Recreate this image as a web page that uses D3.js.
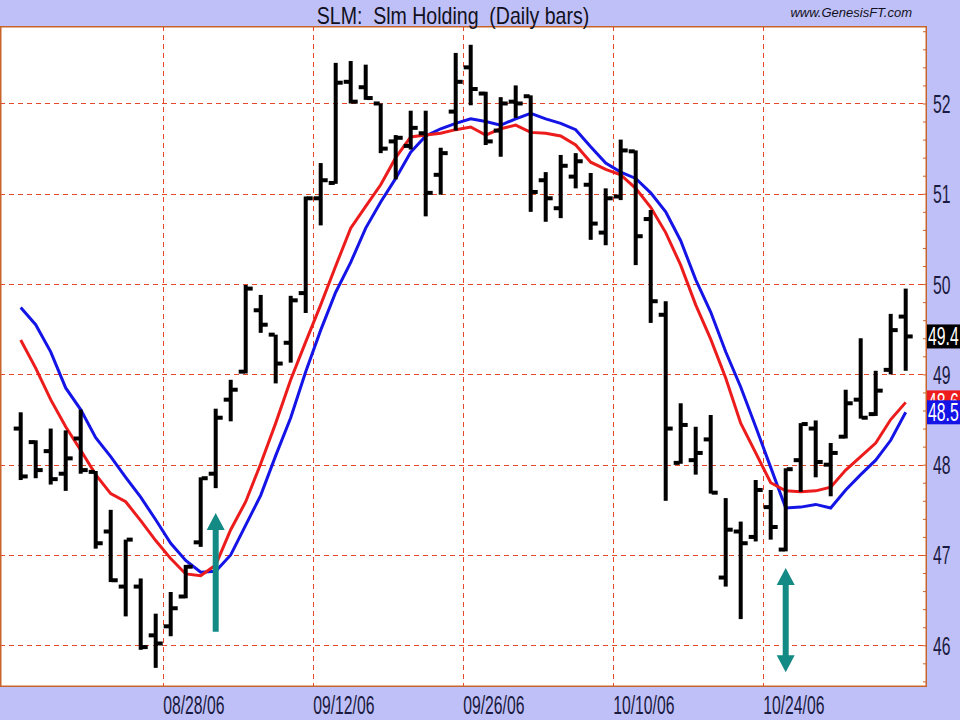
<!DOCTYPE html>
<html>
<head>
<meta charset="utf-8">
<script src="https://cdn.jsdelivr.net/npm/d3@7/dist/d3.min.js"></script>
<style>
  html, body { margin: 0; padding: 0; background: #c0c0f8; }
  svg { display: block; }
  text { white-space: pre; }
</style>
</head>
<body>
<svg id="chart" width="960" height="720"></svg>
<script>
// ---------------- DATA ----------------
const dates = [
  "08/14/06","08/15/06","08/16/06","08/17/06","08/18/06","08/21/06","08/22/06","08/23/06","08/24/06","08/25/06",
  "08/28/06","08/29/06","08/30/06","08/31/06","09/01/06","09/05/06","09/06/06","09/07/06","09/08/06","09/11/06",
  "09/12/06","09/13/06","09/14/06","09/15/06","09/18/06","09/19/06","09/20/06","09/21/06","09/22/06","09/25/06",
  "09/26/06","09/27/06","09/28/06","09/29/06","10/02/06","10/03/06","10/04/06","10/05/06","10/06/06","10/09/06",
  "10/10/06","10/11/06","10/12/06","10/13/06","10/16/06","10/17/06","10/18/06","10/19/06","10/20/06","10/23/06",
  "10/24/06","10/25/06","10/26/06","10/27/06","10/30/06","10/31/06","11/01/06","11/02/06","11/03/06","11/06/06"
];
const openVals = [
  48.40,48.25,48.15,47.90,48.29,47.92,47.26,46.65,46.65,46.11,
  46.21,46.54,47.14,47.90,48.72,49.03,49.71,49.44,49.35,49.90,
  50.95,51.12,52.24,52.18,52.00,51.58,51.53,51.67,51.21,51.91,
  52.40,52.11,51.70,52.02,52.08,51.15,50.84,51.19,51.10,50.57,
  50.97,51.47,50.72,49.66,48.02,48.05,48.28,46.75,47.26,47.20,
  47.53,47.06,48.05,48.40,48.00,48.31,48.72,48.56,49.05,49.64
];
const highVals = [
  48.58,48.27,48.40,48.38,48.61,47.93,47.50,47.17,46.74,46.35,
  46.59,46.89,47.86,48.62,48.94,49.99,49.88,49.44,49.87,50.97,
  51.34,52.45,52.47,52.43,52.00,51.65,51.92,51.92,51.51,52.56,
  52.65,52.13,52.07,52.20,52.09,51.24,51.43,51.45,51.23,51.06,
  51.60,51.48,50.82,49.81,48.68,48.42,48.55,47.63,47.37,47.83,
  47.72,47.96,48.46,48.49,48.24,48.83,49.40,49.04,49.67,49.95
];
const lowVals = [
  47.83,47.85,47.78,47.71,47.90,47.07,46.70,46.32,45.95,45.75,
  46.10,46.52,47.09,47.74,48.48,49.01,49.46,48.90,49.13,49.68,
  50.65,51.11,52.00,52.04,51.45,51.16,51.49,50.75,50.99,51.70,
  51.98,51.54,51.41,51.84,50.80,50.69,50.73,51.06,50.49,50.43,
  50.93,50.21,49.57,47.60,48.01,47.89,47.68,46.65,46.29,47.15,
  47.17,47.04,47.70,47.86,47.65,48.29,48.51,48.54,49.00,49.04
];
const closeVals = [
  47.87,47.94,47.84,48.07,47.94,47.13,46.72,47.17,45.98,46.02,
  46.41,46.87,47.85,48.52,48.83,49.95,49.55,49.12,49.82,50.95,
  51.15,52.23,52.02,52.06,51.50,51.62,51.73,51.01,51.45,52.24,
  52.16,51.58,52.00,52.00,51.02,50.95,51.31,51.36,50.67,50.95,
  51.48,50.53,49.81,48.40,48.44,48.13,47.69,47.28,47.13,47.72,
  47.31,47.95,48.45,48.03,48.13,48.68,48.52,48.82,49.49,49.42
];
const redMA = [
  49.38,49.07,48.72,48.42,48.16,47.89,47.68,47.59,47.38,47.16,
  46.96,46.79,46.77,46.89,47.28,47.59,48.01,48.46,48.94,49.36,
  49.77,50.20,50.62,50.86,51.10,51.40,51.63,51.65,51.67,51.71,
  51.74,51.65,51.72,51.76,51.68,51.67,51.64,51.54,51.35,51.27,
  51.21,51.06,50.85,50.57,50.21,49.77,49.39,48.96,48.46,48.13,
  47.80,47.71,47.70,47.71,47.75,47.94,48.09,48.24,48.50,48.69
];
const blueMA = [
  49.74,49.55,49.25,48.85,48.61,48.30,48.09,47.86,47.64,47.39,
  47.13,46.94,46.81,46.82,47.00,47.33,47.66,48.10,48.52,49.03,
  49.49,49.91,50.24,50.62,50.91,51.17,51.46,51.64,51.72,51.78,
  51.83,51.80,51.76,51.83,51.89,51.83,51.78,51.71,51.52,51.34,
  51.24,51.17,51.01,50.80,50.48,50.05,49.69,49.25,48.86,48.42,
  47.97,47.52,47.53,47.56,47.52,47.72,47.89,48.05,48.27,48.58
];
const xTickLabels = ["08/28/06","09/12/06","09/26/06","10/10/06","10/24/06"];
const yTickValues = [46, 47, 48, 49, 50, 51, 52];
const titleText = "SLM:  Slm Holding  (Daily bars)";
const sourceText = "www.GenesisFT.com";
// annotation arrows
const arrowDates = ["08/31/06", "10/25/06"];
const arrowFrom = [46.15, 45.70];
const arrowTo = [47.465, 46.856];
const arrowDouble = [false, true];

// ---------------- LAYOUT ----------------
const W = 960, H = 720;
const plotL = 0, plotR = 927, plotT = 26, plotB = 687;
const svg = d3.select("#chart");
const font = "'Liberation Sans',Arial,sans-serif";
const axFont = 25, axScale = 0.63, axColor = "#1a1a40";

const bars = dates.map((d, i) => ({
  date: d, o: openVals[i], h: highVals[i], l: lowVals[i], c: closeVals[i],
  r: redMA[i], b: blueMA[i]
}));

const x = d3.scaleBand().domain(dates).range([13.2, 13.2 + 15 * dates.length]).padding(0);
const y = d3.scaleLinear().domain([45.538, 52.858]).range([plotB, plotT]);
const cx = d => x(d) + x.bandwidth() / 2;

// background
svg.append("rect").attr("width", W).attr("height", H).attr("fill", "#c0c0f8");
svg.append("rect").attr("x", plotL).attr("y", plotT).attr("width", plotR - plotL).attr("height", plotB - plotT)
  .attr("fill", "#ffffff");

// grid
const gridColor = "#e8482a";
const grid = svg.append("g").attr("shape-rendering", "crispEdges");
grid.selectAll("line.h").data(yTickValues).join("line").attr("class", "h")
  .attr("x1", plotL).attr("x2", plotR).attr("y1", d => Math.round(y(d)) + 0.5).attr("y2", d => Math.round(y(d)) + 0.5)
  .attr("stroke", gridColor).attr("stroke-width", 1).attr("stroke-dasharray", "5,4");
grid.selectAll("line.v").data(xTickLabels).join("line").attr("class", "v")
  .attr("x1", d => Math.round(x(d)) + 0.5).attr("x2", d => Math.round(x(d)) + 0.5).attr("y1", plotT).attr("y2", plotB)
  .attr("stroke", gridColor).attr("stroke-width", 1).attr("stroke-dasharray", "5,4");

// plot clip
svg.append("clipPath").attr("id", "clip").append("rect")
  .attr("x", plotL).attr("y", plotT).attr("width", plotR - plotL).attr("height", plotB - plotT);
const plot = svg.append("g").attr("clip-path", "url(#clip)");

// moving averages
const lineR = d3.line().x(d => cx(d.date)).y(d => y(d.r));
const lineB = d3.line().x(d => cx(d.date)).y(d => y(d.b));
plot.append("path").datum(bars).attr("d", lineB).attr("fill", "none").attr("stroke", "#1414e6").attr("stroke-width", 3);
plot.append("path").datum(bars).attr("d", lineR).attr("fill", "none").attr("stroke", "#ec1c1c").attr("stroke-width", 3);

// OHLC bars
const bw = 4, tick = 5, th = 4;
const bg = plot.append("g").attr("fill", "#000");
bg.selectAll("rect.hl").data(bars).join("rect").attr("class", "hl")
  .attr("x", d => cx(d.date) - bw / 2).attr("width", bw)
  .attr("y", d => y(d.h)).attr("height", d => Math.max(2, y(d.l) - y(d.h)));
bg.selectAll("rect.op").data(bars).join("rect").attr("class", "op")
  .attr("x", d => cx(d.date) - bw / 2 - tick).attr("width", tick + 1)
  .attr("y", d => y(d.o) - th / 2).attr("height", th);
bg.selectAll("rect.cl").data(bars).join("rect").attr("class", "cl")
  .attr("x", d => cx(d.date) + bw / 2 - 1).attr("width", tick + 1)
  .attr("y", d => y(d.c) - th / 2).attr("height", th);

// arrows
const teal = "#138a84";
arrowDates.forEach((d, i) => {
  const ax = cx(d), y0 = y(arrowFrom[i]), y1 = y(arrowTo[i]);
  const hw = 9, hl = 17, sw = 3;
  let p;
  if (!arrowDouble[i]) {
    p = `M${ax - sw},${y0} L${ax - sw},${y1 + hl} L${ax - hw},${y1 + hl} L${ax},${y1} L${ax + hw},${y1 + hl} L${ax + sw},${y1 + hl} L${ax + sw},${y0} Z`;
  } else {
    p = `M${ax},${y1} L${ax + hw},${y1 + hl} L${ax + sw},${y1 + hl} L${ax + sw},${y0 - hl} L${ax + hw},${y0 - hl} L${ax},${y0} L${ax - hw},${y0 - hl} L${ax - sw},${y0 - hl} L${ax - sw},${y1 + hl} L${ax - hw},${y1 + hl} Z`;
  }
  svg.append("path").attr("d", p).attr("fill", teal);
});

// border
svg.append("rect").attr("x", plotL + 0.75).attr("y", plotT + 0.75).attr("width", plotR - plotL - 1.5).attr("height", plotB - plotT - 1.5)
  .attr("fill", "none").attr("stroke", "#c8642a").attr("stroke-width", 1.5);

// right axis: minor ticks inside the border
const minorTicks = d3.range(45.6, 52.85, 0.2);
const minorAxis = d3.axisLeft(y).tickValues(minorTicks).tickSize(4).tickFormat("");
const gm = svg.append("g").attr("transform", `translate(${plotR},0)`).call(minorAxis);
gm.select(".domain").remove();
gm.selectAll("line").attr("stroke", "#c8642a");

// right axis labels
const rightAxis = d3.axisRight(y).tickValues(yTickValues).tickSize(0).tickPadding(0).tickFormat(d3.format("d"));
const gr = svg.append("g").attr("transform", `translate(${plotR},0)`).call(rightAxis);
gr.select(".domain").remove();
gr.selectAll("text").attr("x", 0).attr("dy", null).attr("y", 0)
  .attr("transform", `translate(6,9) scale(${axScale},1)`)
  .attr("font-family", font).attr("font-size", axFont).attr("fill", axColor);

// bottom axis labels
const bottomAxis = d3.axisBottom(x).tickValues(xTickLabels).tickSize(0).tickPadding(0);
const gb = svg.append("g").attr("transform", `translate(0,${plotB})`).call(bottomAxis);
gb.select(".domain").remove();
gb.selectAll(".tick").attr("transform", d => `translate(${x(d)},0)`);
gb.selectAll("text").attr("text-anchor", "start").attr("x", 0).attr("y", 0).attr("dy", null)
  .attr("transform", `translate(0,27) scale(${axScale},1)`)
  .attr("font-family", font).attr("font-size", axFont).attr("fill", axColor);

// last value labels
const last = bars[bars.length - 1];
const trunc1 = v => (Math.floor(v * 10 + 1e-6) / 10).toFixed(1);
const tagH = 24;
function tag(v, fill) {
  const g = svg.append("g").attr("transform", `translate(${plotR},${y(v)})`);
  g.append("rect").attr("x", 0).attr("y", -tagH / 2).attr("width", W - plotR).attr("height", tagH).attr("fill", fill);
  g.append("text").attr("transform", `translate(1,9) scale(${axScale},1)`)
    .attr("font-family", font).attr("font-size", axFont).attr("fill", "#fff").text(trunc1(v));
}
tag(last.r, "#ee1c1c");
tag(last.b, "#1414e6");
tag(last.c, "#000000");

// title and source
svg.append("text").attr("x", 453).attr("y", 24).attr("text-anchor", "middle")
  .attr("transform", "translate(453,0) scale(0.85,1) translate(-453,0)")
  .attr("font-family", font).attr("font-size", 23).attr("fill", "#101020").text(titleText);
svg.append("text").attr("x", 912).attr("y", 17).attr("text-anchor", "end")
  .attr("font-family", font).attr("font-style", "italic").attr("font-size", 13).attr("fill", "#101020").text(sourceText);
</script>
</body>
</html>
